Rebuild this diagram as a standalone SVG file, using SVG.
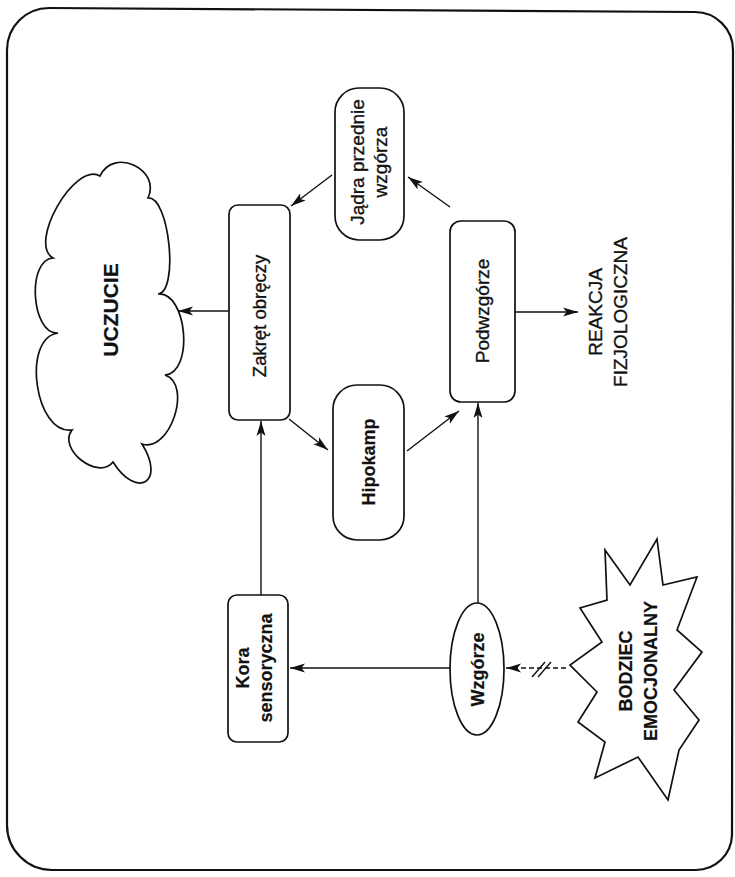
<svg xmlns="http://www.w3.org/2000/svg" width="735" height="877" viewBox="0 0 735 877">
<style>
  .shape{fill:#fff;stroke:#111;stroke-width:1.7}
  .frame{fill:#fff;stroke:#111;stroke-width:2.2}
  .t{font-family:"Liberation Sans",Arial,Helvetica,sans-serif;font-size:19px;fill:#111;stroke:#111;stroke-width:0.35;text-anchor:middle}
  .b{font-weight:bold;font-size:18px;stroke-width:0.2}
  .conn{fill:none;stroke:#111;stroke-width:1.4}
  .dash{stroke-dasharray:5 3}
</style>
<defs>
  <marker id="arr" markerUnits="userSpaceOnUse" markerWidth="16" markerHeight="12" viewBox="0 0 16 12" refX="15" refY="6" orient="auto">
    <path d="M0,1.5 L15,6 L0,10.5 L3.5,6 Z" fill="#111"/>
  </marker>
</defs>
<rect width="735" height="877" fill="#fff"/>
<path class="frame" d="M7,50 A42,42 0 0 1 49,8 L695,12 A38,38 0 0 1 733,50 L732,835 A36,36 0 0 1 696,870 L52,870 A45,45 0 0 1 7,825 Z"/>

<g id="connectors">
  <line class="conn" x1="229" y1="311" x2="178" y2="311" marker-end="url(#arr)"/>
  <line class="conn" x1="332" y1="175" x2="291" y2="206" marker-end="url(#arr)"/>
  <line class="conn" x1="450" y1="207" x2="408" y2="177" marker-end="url(#arr)"/>
  <line class="conn" x1="289" y1="419" x2="328" y2="450" marker-end="url(#arr)"/>
  <line class="conn" x1="407" y1="451" x2="459" y2="411" marker-end="url(#arr)"/>
  <line class="conn" x1="261" y1="595" x2="261" y2="421" marker-end="url(#arr)"/>
  <line class="conn" x1="478" y1="603" x2="478" y2="403" marker-end="url(#arr)"/>
  <line class="conn" x1="450" y1="668" x2="290" y2="668" marker-end="url(#arr)"/>
  <line class="conn" x1="515" y1="312" x2="578" y2="312" marker-end="url(#arr)"/>
  <line class="conn dash" x1="566" y1="668" x2="506" y2="668" marker-end="url(#arr)"/>
  <line class="conn" x1="532" y1="677" x2="545" y2="662"/>
  <line class="conn" x1="538" y1="677" x2="551" y2="662"/>
</g>

<g id="uczucie">
  <path class="shape" d="M53,258 C27.6,243.4 74.6,161.4 100,176 C113.3,146.9 161.3,168.9 148,198 C169.2,195.8 179.2,291.8 158,294 C187.2,291.5 194.2,372.5 165,375 C192.8,384.3 169.8,453.3 142,444 C166,482 137,500 113,462 C98.2,481 57.2,449 72,430 C35.1,435.2 21.1,338.2 58,333 C31.3,334.9 26.3,259.9 53,258 Z"/>
  <text class="t b" style="font-size:21px" transform="translate(110,310) rotate(-90)"><tspan x="0" y="8">UCZUCIE</tspan></text>
</g>

<g id="zakret">
  <rect class="shape" x="229" y="205" width="61" height="215" rx="9"/>
  <text class="t" style="font-size:18.5px" transform="translate(259.5,316) rotate(-90)"><tspan x="0" y="6.5">Zakręt obręczy</tspan></text>
</g>

<g id="jadra">
  <rect class="shape" x="335" y="88" width="69" height="152" rx="24"/>
  <text class="t" transform="translate(369.5,162) rotate(-90)"><tspan x="0" y="-6">Jądra przednie</tspan><tspan x="0" y="17">wzgórza</tspan></text>
</g>

<g id="hipokamp">
  <rect class="shape" x="333" y="385" width="71" height="155" rx="24"/>
  <text class="t b" transform="translate(368.5,462) rotate(-90)"><tspan x="0" y="6.5">Hipokamp</tspan></text>
</g>

<g id="podwzgorze">
  <rect class="shape" x="450" y="221" width="65" height="181" rx="11"/>
  <text class="t" transform="translate(482.5,311) rotate(-90)"><tspan x="0" y="6.5">Podwzgórze</tspan></text>
</g>

<g id="reakcja">
  <text class="t" transform="translate(614,312) rotate(-90)"><tspan x="0" y="-12.5">REAKCJA</tspan><tspan x="0" y="12.5">FIZJOLOGICZNA</tspan></text>
</g>

<g id="kora">
  <rect class="shape" x="228" y="595" width="60" height="147" rx="9"/>
  <text class="t b" transform="translate(258,668) rotate(-90)"><tspan x="0" y="-9">Kora</tspan><tspan x="0" y="14">sensoryczna</tspan></text>
</g>

<g id="wzgorze">
  <ellipse class="shape" cx="477" cy="669" rx="27" ry="66"/>
  <text class="t b" transform="translate(477,669.5) rotate(-90)"><tspan x="0" y="7">Wzgórze</tspan></text>
</g>

<g id="bodziec">
  <polygon class="shape" points="605,550 630,585 657,539 663,585 697,577 677,630 702,652 674,690 699,720 679,750 668,800 638,757 595,778 605,742 578,722 597,692 570,665 602,642 580,608 607,600"/>
  <text class="t b" transform="translate(644,671) rotate(-90)"><tspan x="0" y="-12">BODZIEC</tspan><tspan x="0" y="13">EMOCJONALNY</tspan></text>
</g>
</svg>
